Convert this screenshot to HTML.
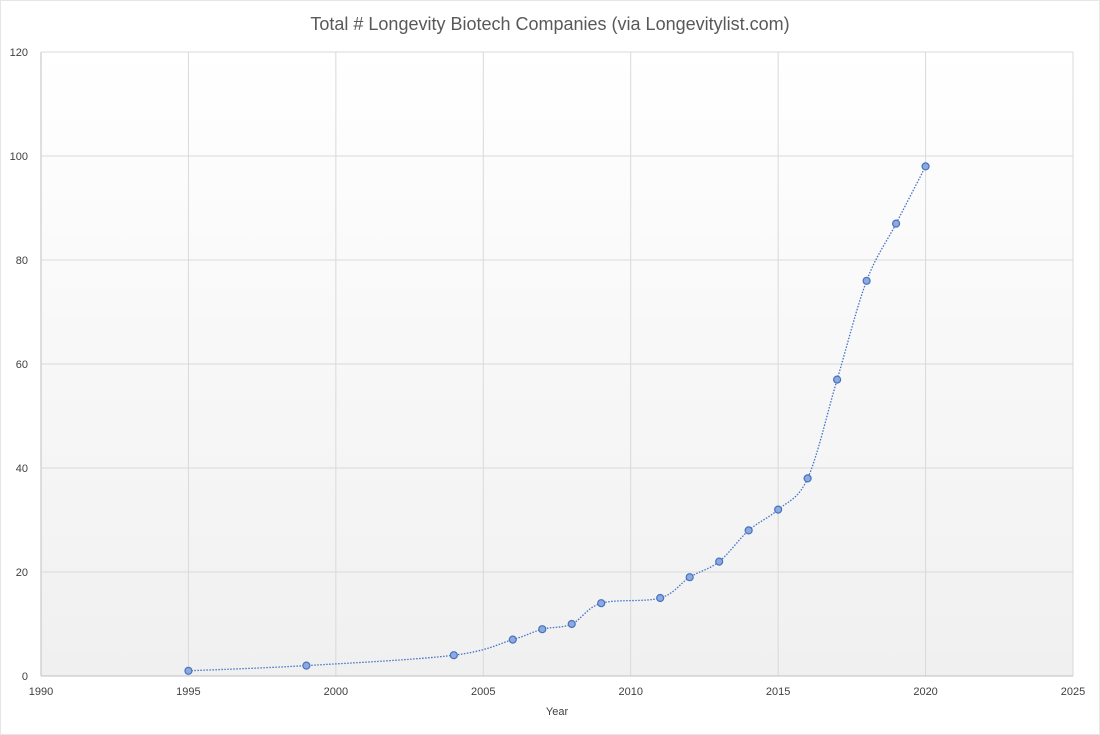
<!DOCTYPE html>
<html><head><meta charset="utf-8"><style>
body{margin:0;background:#fff;font-family:"Liberation Sans",sans-serif;}
svg{display:block}
</style></head><body>
<svg id="chart" width="1100" height="735" xmlns="http://www.w3.org/2000/svg">
<defs><linearGradient id="bg" x1="0" y1="0" x2="0" y2="1"><stop offset="0" stop-color="#ffffff"/><stop offset="1" stop-color="#f0f0f0"/></linearGradient></defs>
<rect x="0.5" y="0.5" width="1099" height="734" fill="#fff" stroke="#e6e6e6"/>
<text x="550" y="30" text-anchor="middle" font-size="18" fill="#595959">Total # Longevity Biotech Companies (via Longevitylist.com)</text>
<rect x="41" y="52" width="1032" height="624" fill="url(#bg)"/>
<g id="grid"></g><g id="axes"></g><g id="series"></g>
<text x="557" y="715" text-anchor="middle" font-size="11" fill="#404040">Year</text>
</svg>
<script>
const years=[1995,1999,2004,2006,2007,2008,2009,2011,2012,2013,2014,2015,2016,2017,2018,2019,2020];
const counts=[1,2,4,7,9,10,14,15,19,22,28,32,38,57,76,87,98];
const xTicks=[1990,1995,2000,2005,2010,2015,2020,2025];
const yTicks=[0,20,40,60,80,100,120];
const L=41,R=1073,T=52,B=676;
const xs=v=>L+(v-1990)/35*(R-L);
const ys=v=>B-v/120*(B-T);
const NS="http://www.w3.org/2000/svg";
function mk(tag,attrs,parent){const e=document.createElementNS(NS,tag);for(const k in attrs)e.setAttribute(k,attrs[k]);document.getElementById(parent).appendChild(e);return e;}
xTicks.forEach(t=>{
 const l=mk('line',{x1:xs(t),x2:xs(t),y1:T,y2:B,stroke:t===1990?'#bfbfbf':'#d9d9d9','stroke-width':1},'grid');
 
 const tx=mk('text',{x:xs(t),y:B+19,'text-anchor':'middle','font-size':11,fill:'#404040'},'axes');tx.textContent=t;
 
});
yTicks.forEach(t=>{
 const l=mk('line',{x1:L,x2:R,y1:ys(t),y2:ys(t),stroke:t===0?'#bfbfbf':'#d9d9d9','stroke-width':1},'grid');
 
 const tx=mk('text',{x:L-13,y:ys(t)+4,'text-anchor':'end','font-size':11,fill:'#404040'},'axes');tx.textContent=t;
 
});
const P=years.map((y,i)=>[xs(y),ys(counts[i])]);
let d='M'+P[0][0]+','+P[0][1];
for(let i=0;i<P.length-1;i++){
 const p0=P[Math.max(0,i-1)],p1=P[i],p2=P[i+1],p3=P[Math.min(P.length-1,i+2)];
 const k=1/6;
 const c1=[p1[0]+(p2[0]-p0[0])*k,p1[1]+(p2[1]-p0[1])*k];
 const c2=[p2[0]-(p3[0]-p1[0])*k,p2[1]-(p3[1]-p1[1])*k];
 d+=` C${c1[0]},${c1[1]} ${c2[0]},${c2[1]} ${p2[0]},${p2[1]}`;
}
const line=mk('path',{d:d,fill:'none',stroke:'#4472c4','stroke-width':1.3,'stroke-dasharray':'1.5 1.5'},'series');

P.forEach(p=>{
 const c=mk('circle',{cx:p[0],cy:p[1],r:3.5,fill:'#8eaadb',stroke:'#4472c4','stroke-width':1.2},'series');
 
});
</script>
</body></html>
